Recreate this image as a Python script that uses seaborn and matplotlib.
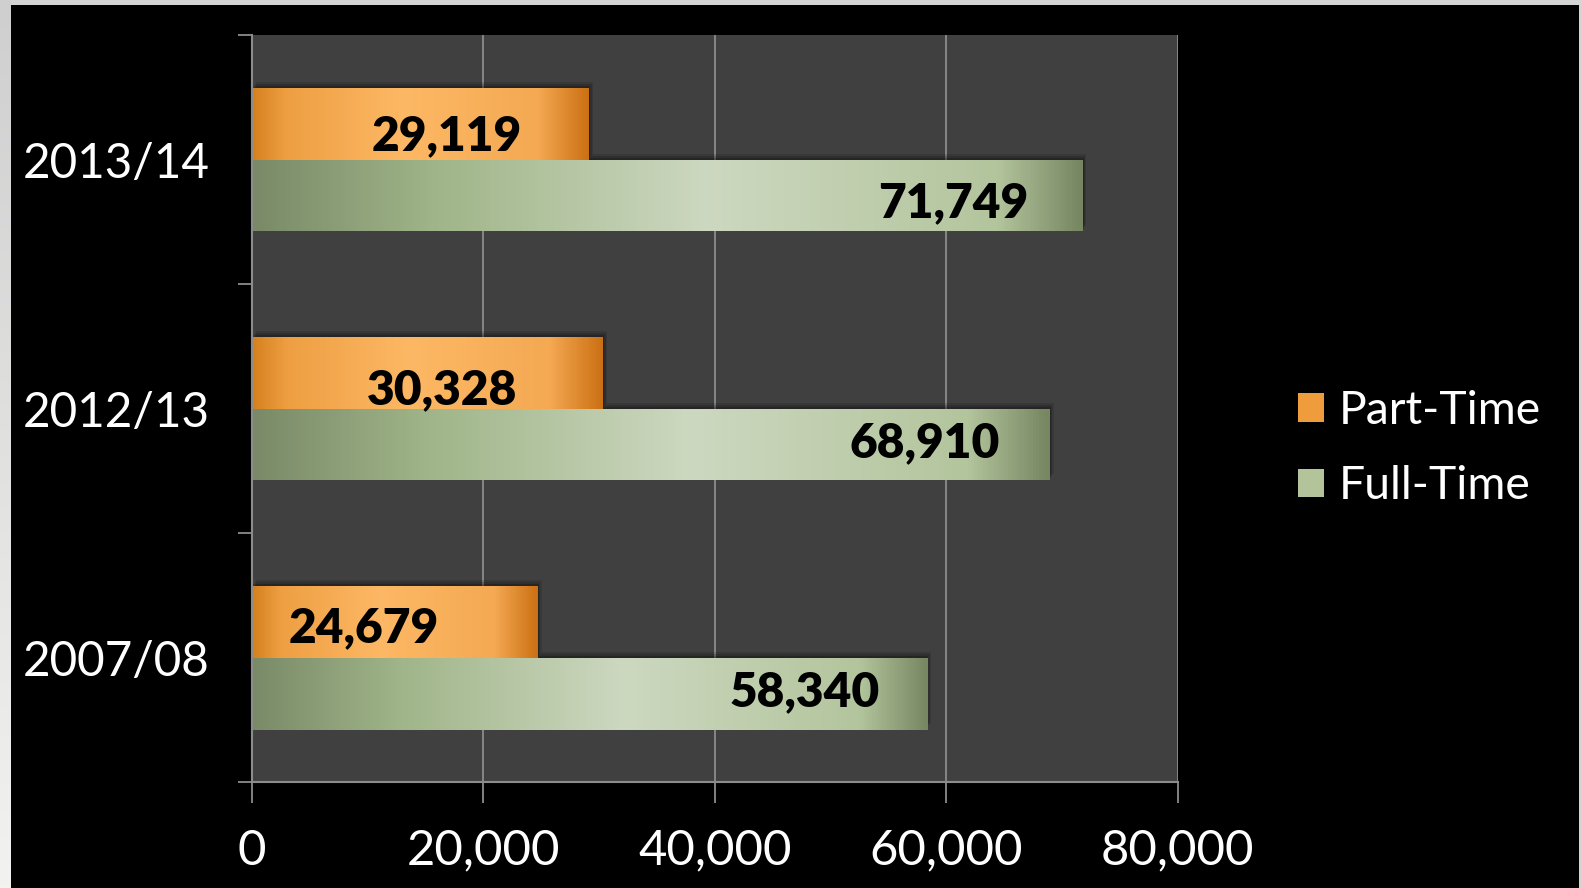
import numpy as np
import pandas as pd
import matplotlib
matplotlib.use("Agg")
import matplotlib.pyplot as plt
import seaborn as sns
from matplotlib.colors import LinearSegmentedColormap
from matplotlib.patches import Rectangle, Patch
import matplotlib.patheffects as pe
from matplotlib.ticker import FuncFormatter, FixedLocator

# ---------------- data ----------------
years = ["2013/14", "2012/13", "2007/08"]
part_time = [29119, 30328, 24679]
full_time = [71749, 68910, 58340]
series = ["Part-Time", "Full-Time"]
x_ticks = [0, 20000, 40000, 60000, 80000]

df = pd.DataFrame({
    "Year": years * 2,
    "Type": [series[0]] * len(years) + [series[1]] * len(years),
    "Students": part_time + full_time,
})

# ---------------- style ----------------
sns.set_theme(style="dark")
plt.rcParams["font.family"] = ["Lato", "DejaVu Sans"]

W, H = 1581, 888
S = 1581 / 1568.0          # measured layout -> output pixels
PT = 0.72                  # px -> pt at 100 dpi

fig = plt.figure(figsize=(W / 100, H / 100), dpi=100)
fig.patch.set_facecolor("#d4d4d4")
fig.add_artist(Rectangle((10 * S / W, 0), (W - 12) / W, (H - 5 * S) / H,
                         transform=fig.transFigure, facecolor="black",
                         edgecolor="none", zorder=-5))
strip = fig.add_axes([0, 0, 10 * S / W, 1])
grad = np.linspace(0, 1, 256).reshape(-1, 1)
strip_cmap = LinearSegmentedColormap.from_list("strip", ["#cfcfcf", "#f2f2f0"])
strip.imshow(grad, aspect="auto", cmap=strip_cmap, origin="upper")
strip.axis("off")

ax_l, ax_r, ax_t, ax_b = 250 * S, 1168 * S, 35 * S, 776 * S
ax = fig.add_axes([ax_l / W, (H - ax_b) / H, (ax_r - ax_l) / W, (ax_b - ax_t) / H])
palette = {"Part-Time": "#f0a040", "Full-Time": "#b5c79e"}
sns.barplot(data=df, y="Year", x="Students", hue="Type", order=years,
            hue_order=series, orient="h", width=0.575, palette=palette,
            saturation=1, ax=ax, legend=False, errorbar=None)

ax.set_facecolor("#404040")
ax.set_axisbelow(True)

orange_cmap = LinearSegmentedColormap.from_list(
    "orange", [(0, "#d5801f"), (0.1, "#ee9f42"), (0.45, "#fdb865"),
               (0.85, "#f4a952"), (1.0, "#cc7014")])
green_cmap = LinearSegmentedColormap.from_list(
    "green", [(0, "#7a8a68"), (0.22, "#a0b589"), (0.55, "#cdd8c0"),
              (0.9, "#b3c59d"), (1.0, "#778762")])
cmaps = [orange_cmap, green_cmap]
hgrad = np.linspace(0, 1, 256).reshape(1, -1)

for cont, cmap in zip(ax.containers, cmaps):
    for bar in cont:
        bar.set_edgecolor("none")
        bar.set_path_effects([
            pe.SimplePatchShadow(offset=(3, 4.5), shadow_rgbFace="black", alpha=0.12),
            pe.SimplePatchShadow(offset=(2, 3), shadow_rgbFace="black", alpha=0.15),
            pe.SimplePatchShadow(offset=(1, 1.5), shadow_rgbFace="black", alpha=0.2),
            pe.Normal()])
        x0, y0 = bar.get_x(), bar.get_y()
        w, h = bar.get_width(), bar.get_height()
        im = ax.imshow(hgrad, cmap=cmap, aspect="auto", interpolation="bilinear",
                       extent=(x0, x0 + w, y0 + h, y0), zorder=bar.get_zorder() + 0.1)
        im.set_clip_path(bar)

ax.set_xlim(0, 80000)
ax.set_ylim(len(years) - 0.5, -0.5)

# data labels (right aligned, offsets in px from bar end / centre)
pt_gap_px = [67, 85, 98]
pt_dy_px = [8.5, 13.5, 2.5]
ft_gap_px = [53, 49, 47]
ft_dy_px = [3.5, -5, -5]
cap_px = 35
for cont, gaps, dys in zip(ax.containers, [pt_gap_px, ft_gap_px], [pt_dy_px, ft_dy_px]):
    for bar, g, dy in zip(cont, gaps, dys):
        val = bar.get_width()
        yc = bar.get_y() + bar.get_height() / 2
        ax.annotate(f"{int(round(val)):,}", xy=(val, yc),
                    xytext=(-g * S * PT, -(dy + cap_px / 2) * S * PT),
                    textcoords="offset points", ha="right", va="baseline",
                    fontsize=34.5, fontweight="heavy", color="black", zorder=5)

grid_c = "#8c8c8c"
ax.grid(axis="x", color=grid_c, linewidth=1.3)
ax.grid(axis="y", visible=False)
for s in ["top", "right"]:
    ax.spines[s].set_visible(False)
for s in ["left", "bottom"]:
    ax.spines[s].set_visible(True)
    ax.spines[s].set_color(grid_c)
    ax.spines[s].set_linewidth(1.5)

ax.xaxis.set_major_locator(FixedLocator(x_ticks))
ax.xaxis.set_major_formatter(FuncFormatter(lambda v, p: f"{int(v):,}"))
ax.tick_params(axis="x", which="major", bottom=True, length=21 * S * PT, width=1.3,
               color=grid_c, labelcolor="white", labelsize=35 * S, pad=25 * S * PT,
               direction="out")
ax.tick_params(axis="y", which="major", left=True, length=0, labelcolor="white",
               labelsize=34 * S, pad=42 * S * PT)
ax.yaxis.set_minor_locator(FixedLocator(np.arange(-0.5, len(years), 1.0)))
ax.tick_params(axis="y", which="minor", left=True, length=14 * S * PT, width=1.3,
               color=grid_c, direction="out")
for t in ax.get_xticklabels() + ax.get_yticklabels():
    t.set_fontweight("normal")
ax.set_xlabel("")
ax.set_ylabel("")

handles = [Patch(facecolor="#ef9c3c", edgecolor="none"),
           Patch(facecolor="#b3c49b", edgecolor="none")]
leg = fig.legend(handles, series, loc="center left",
                 bbox_to_anchor=(1287 * S / W, 1 - 445 * S / H), frameon=False,
                 borderpad=0, borderaxespad=0, handlelength=0.58, handleheight=0.58,
                 handletextpad=0.31, labelspacing=0.72,
                 prop={"size": 33 * S, "weight": "normal"})
for t in leg.get_texts():
    t.set_color("white")

fig.savefig("out.png", dpi=100, facecolor=fig.get_facecolor())
